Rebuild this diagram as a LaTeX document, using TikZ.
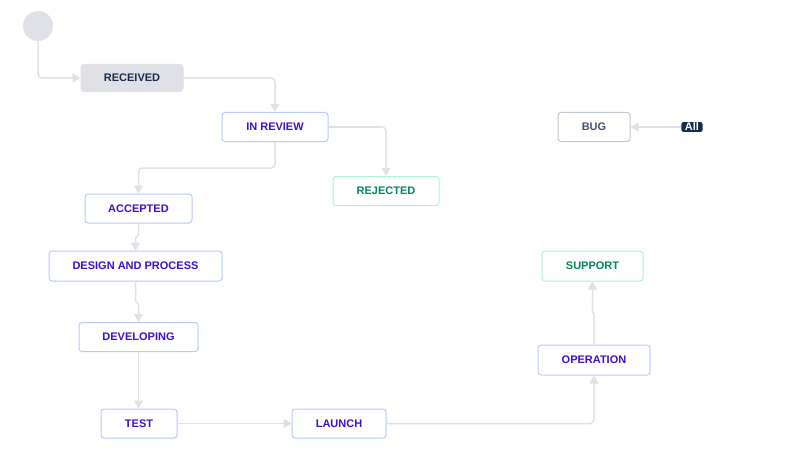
\documentclass[tikz,border=0pt]{standalone}
\usepackage{fontspec}
\setmainfont{Liberation Sans}
\usetikzlibrary{arrows.meta}
\definecolor{wfline}{HTML}{DFE1E6}
\definecolor{wfblue}{HTML}{B8C8FF}
\definecolor{wfindigo}{HTML}{3D0FD6}
\definecolor{wfmint}{HTML}{ABF5D1}
\definecolor{wfgreen}{HTML}{00875A}
\definecolor{wfgray}{HTML}{C1C7D0}
\definecolor{wfslate}{HTML}{42526E}
\definecolor{wfnavy}{HTML}{172B4D}
\tikzset{
  status/.style={draw=wfblue,line width=1pt,rounded corners=3pt,minimum height=29pt,inner sep=2pt,
    text=wfindigo,fill=white,font=\fontsize{11}{13}\selectfont\bfseries},
  donebox/.style={status,draw=wfmint,text=wfgreen},
  flow/.style={draw=wfline,line width=1.5pt,rounded corners=4pt,-{Triangle[width=9pt,length=8pt]}},
  jog/.style={flow,rounded corners=1pt}
}
\begin{document}
\begin{tikzpicture}[x=1pt,y=-1pt]
  \useasboundingbox (0,0) rectangle (789,476);
  % states
  \node[circle,fill=wfline,minimum size=30pt,inner sep=0pt] (start) at (38,26) {};
  \node[status,fill=wfline,draw=wfline,text=wfnavy,minimum width=102pt,minimum height=27pt] (received) at (132,78) {RECEIVED};
  \node[status,minimum width=106pt] (review) at (275,127) {IN REVIEW};
  \node[donebox,minimum width=106pt] (rejected) at (386,191) {REJECTED};
  \node[status,draw=wfgray,text=wfslate,minimum width=72pt] (bug) at (594,127) {BUG};
  \node[fill=wfnavy,text=white,rounded corners=2pt,inner xsep=3.5pt,inner ysep=1pt,
    font=\fontsize{11}{12}\selectfont\bfseries] (all) at (692,127) {All};
  \node[status,minimum width=107pt] (accepted) at (138.5,208.5) {ACCEPTED};
  \node[status,minimum width=173pt,minimum height=30pt] (design) at (135.5,266) {DESIGN AND PROCESS};
  \node[status,minimum width=119pt] (developing) at (138.5,337) {DEVELOPING};
  \node[status,minimum width=76pt] (test) at (139,423.5) {TEST};
  \node[status,minimum width=94pt] (launch) at (339,423.5) {LAUNCH};
  \node[status,minimum width=112pt,minimum height=30pt] (operation) at (594,360) {OPERATION};
  \node[donebox,minimum width=101pt,minimum height=30pt] (support) at (592.5,266) {SUPPORT};
  % transitions
  \draw[flow] (start.south) |- (received.west);
  \draw[flow] (received.east) -| (review.north);
  \draw[flow] (review.south) -- ++(0,26) -| (accepted.north);
  \draw[flow] (review.east) -| (rejected.north);
  \draw[flow] (all.west) -- (bug.east);
  \draw[jog] (accepted.south) -- ++(0,12) -- ++(-3,2) -- (design.north);
  \draw[jog] (design.south) -- ++(0,20) -- ++(3,2) -- (developing.north);
  \draw[flow] (developing.south) -- (developing.south |- test.north);
  \draw[flow] (test.east) -- (launch.west);
  \draw[flow] (launch.east) -| (operation.south);
  \draw[jog] (operation.north) -- ++(0,-31) -- ++(-1.5,-1) -- (support.south);
\end{tikzpicture}
\end{document}
